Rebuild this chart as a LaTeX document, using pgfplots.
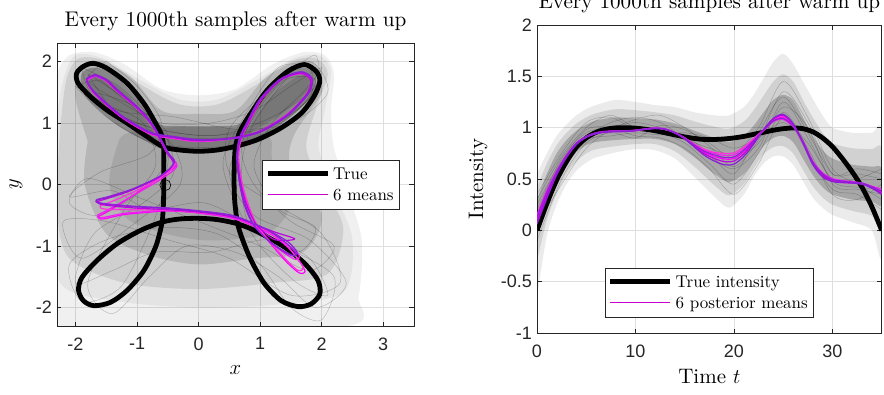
\documentclass[border=0pt]{standalone}
\usepackage{fontspec}
\setmainfont{lmroman10-regular.otf}[ItalicFont=lmroman10-italic.otf, BoldFont=lmroman10-bold.otf]
\newfontfamily\ticksans{Liberation Sans}
\usepackage{pgfplots}
\usepackage{pgfplotstable}
\pgfplotsset{compat=1.18}
\definecolor{axisgray}{HTML}{262626}
\definecolor{gridgray}{HTML}{DFDFDF}
\definecolor{mA}{HTML}{8A1ED6}
\definecolor{mB}{HTML}{FF00FF}
\definecolor{mC}{HTML}{C000E0}
\definecolor{mD}{HTML}{F020F0}
\definecolor{mE}{HTML}{9020D8}
\definecolor{mF}{HTML}{FF30E0}
\definecolor{legm}{HTML}{C800D0}

% right panel: true intensity
\pgfplotstableread{
t I
0 0
1 0.26
2 0.49
3 0.67
4 0.81
5 0.90
6 0.955
7 0.985
8 0.998
9 1.0
10 0.995
11 0.985
12 0.97
13 0.95
14 0.93
15 0.91
16 0.895
17 0.885
18 0.885
19 0.89
20 0.90
21 0.915
22 0.935
23 0.955
24 0.975
25 0.99
26 0.997
27 0.99
28 0.96
29 0.90
30 0.815
31 0.70
32 0.57
33 0.42
34 0.23
35 0.0
}\trueI

% right panel: six posterior means
\pgfplotstableread{
t m1 m2 m3 m4 m5 m6
0 0.06 0.09 0.11 0.13 0.15 0.08
1 0.31 0.33 0.35 0.37 0.39 0.32
2 0.54 0.55 0.56 0.57 0.58 0.55
3 0.71 0.72 0.725 0.73 0.735 0.715
4 0.835 0.84 0.845 0.85 0.85 0.84
5 0.905 0.91 0.91 0.915 0.915 0.91
6 0.94 0.945 0.945 0.95 0.95 0.945
7 0.955 0.96 0.96 0.962 0.965 0.958
8 0.96 0.965 0.965 0.967 0.968 0.963
9 0.962 0.965 0.966 0.968 0.97 0.964
10 0.97 0.972 0.973 0.975 0.976 0.971
11 0.983 0.985 0.986 0.987 0.988 0.984
12 0.992 0.993 0.994 0.995 0.996 0.993
13 0.983 0.985 0.986 0.987 0.988 0.984
14 0.948 0.95 0.951 0.952 0.953 0.95
15 0.89 0.893 0.895 0.897 0.9 0.9
16 0.81 0.815 0.825 0.83 0.835 0.84
17 0.73 0.745 0.76 0.77 0.78 0.79
18 0.675 0.70 0.72 0.735 0.75 0.76
19 0.64 0.67 0.695 0.71 0.73 0.75
20 0.645 0.675 0.70 0.715 0.735 0.755
21 0.72 0.745 0.765 0.78 0.795 0.81
22 0.84 0.855 0.865 0.875 0.885 0.895
23 0.98 0.98 0.975 0.975 0.97 0.98
24 1.09 1.085 1.07 1.065 1.06 1.08
25 1.13 1.12 1.10 1.09 1.08 1.11
26 1.04 1.035 1.02 1.015 1.01 1.03
27 0.85 0.86 0.86 0.865 0.87 0.85
28 0.64 0.655 0.66 0.665 0.675 0.65
29 0.52 0.535 0.545 0.55 0.56 0.53
30 0.475 0.485 0.49 0.495 0.505 0.48
31 0.465 0.47 0.475 0.48 0.485 0.465
32 0.46 0.465 0.465 0.47 0.475 0.46
33 0.45 0.455 0.455 0.46 0.46 0.45
34 0.41 0.415 0.42 0.425 0.43 0.415
35 0.35 0.36 0.37 0.38 0.40 0.365
}\meansI

% right panel: a few individual samples
\pgfplotstableread{
t r1 r2 r3 r4 r5 r6 r7 r8
0 0.2 -0.1 0.35 0.1 0.0 0.25 0.05 0.3
2.5 0.7 0.5 0.75 0.55 0.62 0.68 0.45 0.72
5 0.95 0.85 1.05 0.9 0.88 0.98 0.8 1.0
7.5 1.0 0.95 1.1 1.05 0.92 1.0 0.98 1.12
10 1.05 0.9 0.98 1.1 0.95 0.92 1.08 1.0
12.5 1.0 1.02 0.95 1.05 0.93 0.9 1.12 0.97
15 0.92 0.98 0.85 0.9 0.95 0.8 1.0 0.88
17.5 0.75 0.85 0.65 0.8 0.9 0.6 0.82 0.72
20 0.55 0.7 0.45 0.75 0.8 0.35 0.62 0.6
22.5 0.95 0.85 0.75 1.0 0.9 0.65 0.88 0.8
25 1.3 1.2 1.15 1.45 1.05 1.1 1.35 1.25
27.5 0.95 1.0 0.8 1.1 0.85 0.75 1.05 0.9
30 0.55 0.45 0.35 0.6 0.5 0.4 0.55 0.48
32.5 0.55 0.4 0.3 0.45 0.5 0.35 0.6 0.42
35 0.5 0.35 0.45 0.3 0.6 0.2 0.55 0.4
}\samplesI

\pgfplotsset{
  mstyle/.style={
    scale only axis,
    axis line style={axisgray, line width=0.8pt},
    tick style={axisgray, line width=0.6pt},
    tick align=inside,
    xtick pos=both, ytick pos=both,
    major tick length=4.5pt,
    grid=major,
    grid style={gridgray, line width=0.7pt},
    ticklabel style={font=\ticksans\fontsize{18}{18}\selectfont, text=axisgray},
    xticklabel style={yshift=-8pt},
    yticklabel style={xshift=-1.5pt},
    /pgf/number format/assume math mode=true,
    label style={font=\fontsize{21}{25}\selectfont},
    title style={font=\fontsize{21.2}{25}\selectfont, at={(axis description cs:0.5,1)}, anchor=base, yshift=11pt},
    legend cell align=left,
    legend image code/.code={\draw[##1] (0pt,1pt) -- (60pt,1pt);},
    legend style={draw=axisgray, line width=0.8pt, fill=white,
      inner xsep=3pt, inner ysep=4.5pt, row sep=2pt,
      font=\fontsize{17}{20}\selectfont,
      nodes={inner xsep=3pt, inner ysep=1.5pt, text height=13pt, text depth=3pt}},
    sample/.style={forget plot, black, draw opacity=0.22, line width=0.5pt, smooth},
  }
}

\begin{document}
\begin{tikzpicture}
\useasboundingbox (0pt,0pt) rectangle (884pt,394pt);

% ================= LEFT PANEL =================
\begin{axis}[mstyle,
  at={(57pt,68pt)}, anchor=south west,
  width=357pt, height=283pt,
  xmin=-2.3, xmax=3.5, ymin=-2.3, ymax=2.3,
  xtick={-2,-1,0,1,2,3}, ytick={-2,-1,0,1,2},
  title={Every 1000th samples after warm up},
  xlabel={$x$}, ylabel={$y$},
  xlabel style={at={(axis description cs:0.5,-0.157)}, anchor=center},
  ylabel style={at={(axis description cs:-0.1154,0.5)}, anchor=center},
  legend style={at={(0.961,0.587)}, anchor=north east},
]
% gray sample cloud (density layers)
\addplot[forget plot, draw=none, fill=black, fill opacity=0.06, smooth] coordinates {
(-2.3,1.35) (-2.32,0) (-2.32,-2.32) (2.3,-2.32) (2.6,-1.8) (2.65,-0.9) (2.45,-0.2) (2.2,0.6) (2.15,1.2) (2.2,1.8) (2.05,2.1) (1.7,2.15) (1.2,1.95) (0.6,1.55) (0,1.45) (-0.6,1.55) (-1.2,1.95) (-1.7,2.15) (-2.1,2.1) (-2.3,1.8) (-2.3,1.35)};
\addplot[forget plot, draw=none, fill=black, fill opacity=0.05, smooth] coordinates {
(-2.3,1.1) (-2.32,-0.3) (-2.25,-1.6) (-1.3,-1.9) (0,-2.0) (1.3,-1.95) (2.35,-1.75) (2.5,-0.9) (2.2,-0.1) (1.95,0.6) (2.05,1.2) (2.15,1.85) (1.95,2.1) (1.55,2.05) (0.95,1.7) (0.3,1.38) (-0.3,1.38) (-0.95,1.7) (-1.55,2.05) (-2.0,2.1) (-2.2,1.7) (-2.3,1.1)};
\addplot[forget plot, draw=none, fill=black, fill opacity=0.09, smooth] coordinates {
(-2.25,0.9) (-2.3,-0.4) (-2.1,-1.2) (-1.2,-1.6) (0,-1.7) (1.2,-1.6) (2.1,-1.45) (2.35,-0.7) (2.0,0.0) (1.75,0.6) (1.9,1.2) (2.1,1.8) (1.9,2.05) (1.5,2.0) (0.9,1.6) (0.3,1.3) (-0.3,1.3) (-0.9,1.6) (-1.5,2.0) (-1.95,2.05) (-2.15,1.7) (-2.25,0.9)};
\addplot[forget plot, draw=none, fill=black, fill opacity=0.12, smooth] coordinates {
(-1.8,0.7) (-1.85,0.0) (-1.5,-0.8) (-0.8,-1.15) (0,-1.3) (0.9,-1.2) (1.7,-1.1) (2.0,-0.5) (1.5,0.3) (1.55,0.8) (2.0,1.5) (1.9,1.95) (1.6,2.0) (1.1,1.75) (0.6,1.2) (0,1.15) (-0.6,1.2) (-1.1,1.75) (-1.6,2.0) (-1.95,1.9) (-2.0,1.4) (-1.8,0.7)};
\addplot[forget plot, draw=none, fill=black, fill opacity=0.09, smooth] coordinates {
(-1.3,0.7) (-1.45,0.0) (-1.1,-0.6) (0,-0.9) (1.1,-0.8) (1.5,-0.3) (1.2,0.4) (1.1,0.8) (0,0.95) (-1.1,0.85) (-1.3,0.7)};
\addplot[forget plot, draw=none, fill=black, fill opacity=0.26, smooth] coordinates {
(-0.55,0.55) (0,0.55) (0.6,0.6) (1.3,0.95) (1.85,1.45) (1.9,1.8) (1.7,1.9) (1.4,1.8) (1.0,1.4) (0.7,1.0) (0.3,0.95) (-0.3,0.95) (-0.7,1.0) (-1.0,1.4) (-1.4,1.8) (-1.7,1.9) (-1.9,1.8) (-1.85,1.45) (-1.3,0.95) (-0.55,0.55)};
\addplot[forget plot, draw=none, fill=black, fill opacity=0.12, smooth] coordinates {
(-0.7,0.8) (-1.3,1.15) (-1.75,1.55) (-1.75,1.75) (-1.55,1.75) (-1.1,1.4) (-0.7,0.8)};
\addplot[forget plot, draw=none, fill=black, fill opacity=0.12, smooth] coordinates {
(0.75,0.8) (1.35,1.15) (1.8,1.55) (1.8,1.75) (1.6,1.75) (1.15,1.4) (0.75,0.8)};

% a few individual samples
\addplot[sample] coordinates {(-1.9,1.9) (-1.3,1.6) (-0.8,1.1) (-0.5,0.5) (-0.8,0.0) (-1.6,-0.5) (-2.1,-0.3) (-1.8,0.1) (-1.0,-0.2) (0,-0.6) (1.0,-1.0) (1.8,-1.4) (2.2,-1.0) (1.5,-0.6) (0.9,0) (0.7,0.6) (1.0,1.3) (1.6,1.9) (2.0,1.8) (1.7,1.3) (1.0,0.9) (0,0.8) (-1.0,1.0) (-1.7,1.4) (-1.9,1.9)};
\addplot[sample] coordinates {(-1.6,1.7) (-1.0,1.2) (-0.4,0.6) (-0.3,0.0) (-1.0,-0.6) (-1.9,-1.2) (-2.2,-0.6) (-1.5,-0.6) (-0.5,-0.9) (0.5,-1.2) (1.5,-1.8) (2.3,-1.6) (2.0,-0.8) (1.2,-0.3) (0.5,0.2) (0.5,0.9) (1.1,1.5) (1.8,2.0) (2.1,1.5) (1.5,1.0) (0.6,0.9) (-0.4,1.1) (-1.3,1.2) (-1.9,1.6) (-1.6,1.7)};
\addplot[sample] coordinates {(-2.0,1.6) (-1.5,1.3) (-0.9,1.0) (-0.7,0.3) (-1.2,-0.4) (-1.8,-1.6) (-1.4,-2.1) (-0.8,-1.5) (-0.2,-1.0) (0.6,-1.1) (1.3,-1.5) (1.9,-2.0) (2.4,-1.6) (1.8,-0.9) (0.9,-0.5) (0.5,0.2) (0.9,1.1) (1.4,1.7) (1.9,1.7) (1.6,1.2) (0.8,0.7) (0,0.6) (-0.8,0.7) (-1.5,1.1) (-2.0,1.6)};
\addplot[sample] coordinates {(-1.5,2.0) (-1.0,1.6) (-0.6,1.0) (-0.8,0.5) (-1.6,0.2) (-2.1,-0.2) (-1.4,-0.1) (-0.8,-0.4) (0.1,-0.3) (0.9,-0.7) (1.6,-1.1) (1.9,-0.7) (1.3,-0.4) (0.9,0.3) (1.2,1.0) (1.7,1.5) (2.0,1.9) (1.5,1.6) (0.9,1.2) (0.2,1.0) (-0.6,1.0) (-1.2,1.3) (-1.8,1.7) (-1.5,2.0)};
\addplot[sample] coordinates {(-1.7,1.5) (-1.1,1.3) (-0.5,0.8) (-0.6,-0.2) (-0.9,-1.0) (-1.3,-1.7) (-1.9,-1.9) (-2.1,-1.3) (-1.5,-0.9) (-0.6,-0.7) (0.3,-0.8) (1.0,-1.3) (1.5,-2.0) (2.0,-2.2) (2.2,-1.5) (1.4,-1.0) (0.8,-0.6) (0.7,0.3) (0.9,1.0) (1.5,1.8) (1.9,2.1) (1.9,1.6) (1.2,1.1) (0.3,0.8) (-0.7,0.9) (-1.4,1.2) (-1.7,1.5)};
\addplot[sample] coordinates {(-1.8,1.8) (-1.2,1.4) (-0.6,0.9) (-0.4,0.2) (-0.9,-0.3) (-1.7,-0.8) (-2.0,-1.6) (-1.4,-1.4) (-0.7,-1.1) (0.2,-1.1) (1.1,-0.9) (1.8,-1.2) (2.1,-1.8) (1.6,-1.6) (1.0,-1.0) (0.6,-0.3) (0.4,0.4) (0.8,1.2) (1.3,1.9) (1.8,1.9) (1.8,1.4) (1.1,0.9) (0.3,0.75) (-0.6,0.8) (-1.3,1.1) (-1.8,1.8)};

% true curve
\addplot[forget plot, black, line width=4.8pt, smooth, tension=0.5] coordinates {
(-0.565,0) (-0.57,-0.3) (-0.59,-0.61) (-0.62,-0.745) (-0.70,-1.02) (-0.89,-1.40) (-1.16,-1.72) (-1.43,-1.915) (-1.70,-1.97) (-1.87,-1.89) (-1.95,-1.72) (-1.895,-1.51) (-1.65,-1.235) (-1.32,-0.96) (-0.94,-0.745) (-0.59,-0.61) (-0.3,-0.56) (0,-0.55) (0.3,-0.57) (0.635,-0.64) (0.96,-0.77) (1.40,-1.02) (1.73,-1.29) (1.94,-1.56) (1.97,-1.78) (1.83,-1.94) (1.62,-1.985) (1.345,-1.89) (1.07,-1.61) (0.855,-1.235) (0.72,-0.91) (0.635,-0.64) (0.59,-0.3) (0.577,0) (0.58,0.3) (0.60,0.62) (0.68,0.88) (0.85,1.16) (1.12,1.54) (1.45,1.84) (1.72,1.95) (1.91,1.84) (1.97,1.68) (1.88,1.44) (1.67,1.16) (1.34,0.92) (0.96,0.73) (0.60,0.62) (0.3,0.56) (0,0.54) (-0.3,0.56) (-0.567,0.61) (-0.84,0.78) (-1.165,1.00) (-1.49,1.21) (-1.76,1.43) (-1.96,1.65) (-1.98,1.81) (-1.87,1.92) (-1.71,1.97) (-1.49,1.89) (-1.165,1.65) (-0.89,1.32) (-0.70,1.00) (-0.60,0.80) (-0.567,0.61) (-0.565,0.3) (-0.565,0)};

% six posterior means
\addplot[forget plot, mB, line width=1.2pt, smooth] coordinates {
(-1.67,1.77) (-1.49,1.69) (-1.32,1.53) (-0.94,1.20) (-0.72,0.93) (-0.60,0.71) (-0.49,0.50) (-0.36,0.32) (-0.55,0.17) (-0.80,0.00) (-1.22,-0.28) (-1.50,-0.45) (-1.63,-0.53) (-1.55,-0.56) (-1.22,-0.49) (-0.80,-0.45) (-0.51,-0.43) (0.03,-0.46) (0.58,-0.55) (1.10,-0.76) (1.45,-1.02) (1.66,-1.28) (1.73,-1.42) (1.64,-1.44) (1.45,-1.28) (1.22,-1.02) (0.95,-0.68) (0.78,-0.30) (0.69,0.05) (0.64,0.45) (0.69,0.76) (0.81,1.01) (1.02,1.39) (1.35,1.72) (1.67,1.81) (1.82,1.70) (1.77,1.48) (1.44,1.14) (1.00,0.87) (0.58,0.76) (0.03,0.70) (-0.40,0.75) (-0.78,0.82) (-1.22,1.07) (-1.49,1.29) (-1.72,1.51) (-1.81,1.69) (-1.67,1.77)};
\addplot[forget plot, mD, line width=1.2pt, smooth] coordinates {
(-1.67,1.76) (-1.50,1.68) (-1.33,1.52) (-0.95,1.19) (-0.73,0.92) (-0.61,0.70) (-0.50,0.50) (-0.35,0.30) (-0.62,0.08) (-1.10,-0.20) (-1.45,-0.40) (-1.64,-0.50) (-1.58,-0.54) (-1.22,-0.47) (-0.85,-0.44) (-0.51,-0.42) (0.03,-0.47) (0.58,-0.56) (1.12,-0.78) (1.48,-1.00) (1.64,-1.16) (1.58,-1.22) (1.40,-1.12) (1.18,-0.94) (0.94,-0.66) (0.79,-0.30) (0.70,0.05) (0.65,0.45) (0.70,0.76) (0.82,1.01) (1.03,1.39) (1.35,1.71) (1.68,1.80) (1.82,1.69) (1.76,1.47) (1.44,1.13) (1.00,0.86) (0.58,0.755) (0.03,0.70) (-0.40,0.75) (-0.78,0.82) (-1.22,1.07) (-1.49,1.29) (-1.72,1.51) (-1.81,1.68) (-1.67,1.76)};
\addplot[forget plot, mF, line width=1.2pt, smooth] coordinates {
(-1.68,1.79) (-1.50,1.70) (-1.33,1.54) (-0.95,1.21) (-0.73,0.94) (-0.62,0.72) (-0.51,0.51) (-0.38,0.34) (-0.60,0.12) (-1.05,-0.12) (-1.42,-0.28) (-1.60,-0.35) (-1.52,-0.40) (-1.06,-0.41) (-0.51,-0.42) (0.03,-0.46) (0.58,-0.54) (1.10,-0.75) (1.42,-0.98) (1.62,-1.22) (1.70,-1.36) (1.62,-1.40) (1.44,-1.24) (1.22,-1.00) (0.96,-0.68) (0.80,-0.30) (0.70,0.05) (0.64,0.45) (0.69,0.76) (0.81,1.0) (1.02,1.38) (1.35,1.72) (1.68,1.82) (1.83,1.71) (1.78,1.48) (1.45,1.13) (1.01,0.86) (0.58,0.75) (0.03,0.70) (-0.40,0.75) (-0.78,0.82) (-1.22,1.08) (-1.49,1.30) (-1.72,1.52) (-1.82,1.70) (-1.68,1.79)};
\addplot[forget plot, mC, line width=1.2pt, smooth] coordinates {
(-1.69,1.78) (-1.51,1.70) (-1.34,1.54) (-0.96,1.21) (-0.74,0.94) (-0.62,0.72) (-0.52,0.52) (-0.41,0.33) (-0.64,0.12) (-1.08,-0.09) (-1.46,-0.22) (-1.64,-0.28) (-1.55,-0.33) (-1.06,-0.38) (-0.51,-0.41) (0.03,-0.45) (0.60,-0.54) (1.23,-0.77) (1.56,-0.88) (1.40,-0.91) (1.20,-0.88) (0.93,-0.64) (0.77,-0.30) (0.68,0.05) (0.63,0.45) (0.68,0.74) (0.80,0.99) (1.01,1.37) (1.34,1.70) (1.66,1.81) (1.82,1.70) (1.77,1.49) (1.45,1.14) (1.01,0.87) (0.58,0.76) (0.03,0.71) (-0.40,0.76) (-0.78,0.83) (-1.22,1.08) (-1.49,1.30) (-1.72,1.52) (-1.82,1.70) (-1.69,1.78)};
\addplot[forget plot, mA, line width=1.2pt, smooth] coordinates {
(-1.68,1.79) (-1.50,1.71) (-1.33,1.55) (-0.95,1.22) (-0.73,0.95) (-0.61,0.73) (-0.50,0.52) (-0.40,0.35) (-0.62,0.14) (-1.06,-0.07) (-1.45,-0.20) (-1.66,-0.26) (-1.58,-0.31) (-1.06,-0.36) (-0.51,-0.39) (0.03,-0.44) (0.58,-0.52) (1.12,-0.74) (1.45,-0.93) (1.60,-1.10) (1.55,-1.16) (1.35,-1.06) (1.12,-0.90) (0.90,-0.66) (0.76,-0.33) (0.67,0.05) (0.63,0.45) (0.67,0.75) (0.79,1.0) (1.00,1.38) (1.33,1.71) (1.67,1.83) (1.84,1.72) (1.79,1.49) (1.46,1.13) (1.02,0.86) (0.58,0.75) (0.03,0.72) (-0.40,0.77) (-0.78,0.84) (-1.22,1.09) (-1.49,1.31) (-1.72,1.53) (-1.82,1.71) (-1.68,1.79)};
\addplot[forget plot, mE, line width=1.2pt, smooth] coordinates {
(-1.66,1.77) (-1.48,1.69) (-1.31,1.53) (-0.93,1.20) (-0.72,0.93) (-0.60,0.71) (-0.49,0.51) (-0.39,0.36) (-0.60,0.15) (-1.04,-0.06) (-1.44,-0.19) (-1.66,-0.25) (-1.60,-0.30) (-1.10,-0.35) (-0.51,-0.38) (0.03,-0.43) (0.58,-0.51) (1.10,-0.73) (1.42,-0.95) (1.58,-1.12) (1.52,-1.16) (1.32,-1.05) (1.10,-0.88) (0.88,-0.64) (0.74,-0.32) (0.66,0.05) (0.62,0.45) (0.66,0.75) (0.78,1.0) (0.99,1.38) (1.32,1.71) (1.66,1.83) (1.84,1.73) (1.80,1.50) (1.47,1.14) (1.02,0.87) (0.58,0.76) (0.03,0.73) (-0.40,0.78) (-0.78,0.85) (-1.22,1.10) (-1.49,1.32) (-1.72,1.54) (-1.82,1.72) (-1.66,1.77)};

% start marker
\addplot[forget plot, only marks, mark=o, mark size=5.5pt, mark options={black, line width=0.6pt}] coordinates {(-0.54,-0.01)};

\addlegendimage{black, draw=black, line width=4.8pt}
\addlegendentry{True}
\addlegendimage{legm, draw=legm, line width=1.2pt}
\addlegendentry{6 means}
\end{axis}

% ================= RIGHT PANEL =================
\begin{axis}[mstyle,
  at={(537pt,61pt)}, anchor=south west,
  width=344.7pt, height=308pt,
  xmin=0, xmax=35, ymin=-1, ymax=2,
  xtick={0,10,20,30}, ytick={-1,-0.5,0,0.5,1,1.5,2},
  title={Every 1000th samples after warm up},
  xlabel={Time $t$}, ylabel={Intensity},
  xlabel style={at={(axis description cs:0.5,-0.14)}, anchor=center},
  ylabel style={at={(axis description cs:-0.171,0.5)}, anchor=center},
  legend style={at={(0.5,0.0497)}, anchor=south},
]
% envelope of gray samples: faint (outer), middle, dense (inner)
\addplot[forget plot, draw=none, fill=black, fill opacity=0.08, smooth] coordinates {
(0,0.55) (1,0.75) (2,0.92) (3,1.03) (4,1.12) (5,1.18) (6,1.22) (8,1.27) (10,1.25) (12,1.22) (14,1.20) (16,1.15) (18,1.12) (19.5,1.12) (21,1.20) (22,1.32) (23,1.48) (24,1.64) (25,1.72) (26,1.62) (27,1.45) (28,1.28) (29,1.12) (30,1.00) (32,0.95) (34,0.95) (35,0.95)
(35,-0.25) (34,0.0) (32,0.08) (30,0.15) (29,0.22) (28,0.32) (27,0.48) (26,0.64) (25,0.72) (24,0.72) (23,0.65) (22,0.52) (21,0.35) (19.5,0.22) (18,0.33) (16,0.52) (14,0.70) (12,0.78) (10,0.79) (8,0.76) (6,0.71) (5,0.66) (4,0.58) (3,0.45) (2,0.25) (1,-0.05) (0,-0.65)};
\addplot[forget plot, draw=none, fill=black, fill opacity=0.11, smooth] coordinates {
(0,0.42) (1,0.65) (2,0.83) (3,0.95) (4,1.04) (5,1.10) (6,1.14) (8,1.18) (10,1.17) (12,1.15) (14,1.12) (16,1.06) (18,1.01) (19.5,0.99) (21,1.06) (22,1.17) (23,1.31) (24,1.45) (25,1.52) (26,1.45) (27,1.27) (28,1.10) (29,0.95) (30,0.85) (32,0.80) (34,0.79) (35,0.78)
(35,0.0) (34,0.14) (32,0.19) (30,0.25) (29,0.32) (28,0.43) (27,0.59) (26,0.75) (25,0.82) (24,0.81) (23,0.74) (22,0.60) (21,0.45) (19.5,0.34) (18,0.44) (16,0.62) (14,0.77) (12,0.84) (10,0.84) (8,0.82) (6,0.79) (5,0.75) (4,0.67) (3,0.55) (2,0.36) (1,0.10) (0,-0.30)};
\addplot[forget plot, draw=none, fill=black, fill opacity=0.20, smooth] coordinates {
(0,0.30) (1,0.55) (2,0.75) (3,0.88) (4,0.97) (5,1.03) (6,1.07) (8,1.10) (10,1.09) (12,1.08) (14,1.04) (16,0.97) (18,0.90) (19.5,0.86) (21,0.92) (22,1.02) (23,1.15) (24,1.27) (25,1.32) (26,1.27) (27,1.10) (28,0.92) (29,0.78) (30,0.70) (32,0.64) (34,0.62) (35,0.60)
(35,0.25) (34,0.28) (32,0.30) (30,0.35) (29,0.42) (28,0.54) (27,0.70) (26,0.86) (25,0.92) (24,0.90) (23,0.82) (22,0.68) (21,0.55) (19.5,0.47) (18,0.55) (16,0.71) (14,0.84) (12,0.89) (10,0.89) (8,0.88) (6,0.86) (5,0.83) (4,0.76) (3,0.64) (2,0.46) (1,0.22) (0,-0.05)};

% a few individual samples
\addplot[sample] table[x=t, y=r1] {\samplesI};
\addplot[sample] table[x=t, y=r2] {\samplesI};
\addplot[sample] table[x=t, y=r3] {\samplesI};
\addplot[sample] table[x=t, y=r4] {\samplesI};
\addplot[sample] table[x=t, y=r5] {\samplesI};
\addplot[sample] table[x=t, y=r6] {\samplesI};
\addplot[sample] table[x=t, y=r7] {\samplesI};
\addplot[sample] table[x=t, y=r8] {\samplesI};

\addplot[forget plot, black, line width=4.8pt, smooth] table[x=t, y=I] {\trueI};

\addplot[forget plot, mB, line width=1.2pt, smooth] table[x=t, y=m3] {\meansI};
\addplot[forget plot, mD, line width=1.2pt, smooth] table[x=t, y=m5] {\meansI};
\addplot[forget plot, mF, line width=1.2pt, smooth] table[x=t, y=m6] {\meansI};
\addplot[forget plot, mC, line width=1.2pt, smooth] table[x=t, y=m2] {\meansI};
\addplot[forget plot, mA, line width=1.2pt, smooth] table[x=t, y=m1] {\meansI};
\addplot[forget plot, mE, line width=1.2pt, smooth] table[x=t, y=m4] {\meansI};

\addlegendimage{black, draw=black, line width=4.8pt}
\addlegendentry{True intensity}
\addlegendimage{legm, draw=legm, line width=1.2pt}
\addlegendentry{6 posterior means}
\end{axis}
\end{tikzpicture}
\end{document}
